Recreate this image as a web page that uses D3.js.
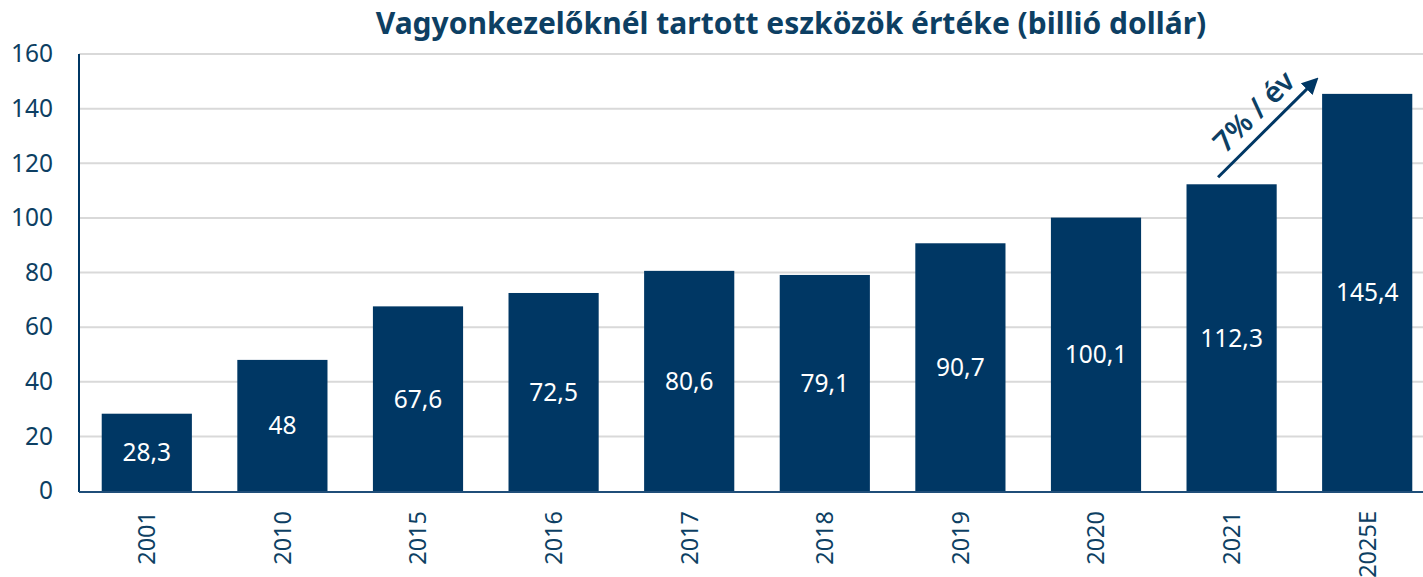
<!DOCTYPE html>
<html><head><meta charset="utf-8">
<script src="https://cdn.jsdelivr.net/npm/d3@7"></script>
<style>body{margin:0;background:#fff}svg{display:block}</style>
</head><body><svg id="c" width="1423" height="577"></svg>
<script>
const categories = ["2001","2010","2015","2016","2017","2018","2019","2020","2021","2025E"];
const values = [28.3,48,67.6,72.5,80.6,79.1,90.7,100.1,112.3,145.4];
const valueLabels = ["28,3","48","67,6","72,5","80,6","79,1","90,7","100,1","112,3","145,4"];
const yTicks = [0,20,40,60,80,100,120,140,160];
const title = "Vagyonkezelőknél tartott eszközök értéke (billió dollár)";
const annotation = "7% / év";

const navy = "#003764", txt = "#0d3f63";
const svg = d3.select("#c");
const L = 79, R = 1435, T = 54, B = 491;
const x = d3.scaleBand().domain(categories).range([L, R]).paddingInner(0.335).paddingOuter(0.1675);
const y = d3.scaleLinear().domain([0,160]).range([B, T]);
const font = "'Noto Sans', sans-serif";

svg.append("text").attr("x", 791).attr("y", 34).attr("text-anchor","middle")
  .attr("font-family", font).attr("font-weight","bold").attr("font-size", 30)
  .attr("fill", txt).text(title);

// gridlines
svg.append("g").selectAll("line").data(yTicks.filter(d=>d>0)).join("line")
  .attr("x1", L).attr("x2", 1423).attr("y1", d=>y(d)).attr("y2", d=>y(d))
  .attr("stroke", "#d9d9d9").attr("stroke-width", 2);

// y axis
const ya = svg.append("g").attr("transform", `translate(${L},0)`)
  .call(d3.axisLeft(y).tickValues(yTicks).tickSize(0).tickPadding(26));
ya.select(".domain").remove();
ya.selectAll("text").attr("font-family", font).attr("font-size", 24.5).attr("fill", txt);

// bars
svg.append("g").selectAll("rect").data(values).join("rect")
  .attr("x", (d,i)=>x(categories[i])).attr("width", x.bandwidth())
  .attr("y", d=>y(d)).attr("height", d=>B - y(d)).attr("fill", navy);

svg.append("g").selectAll("text").data(values).join("text")
  .attr("x", (d,i)=>x(categories[i]) + x.bandwidth()/2)
  .attr("y", d=>(y(d)+B)/2 + 9).attr("text-anchor","middle")
  .attr("font-family", font).attr("font-size", 24.5).attr("fill", "#fff")
  .text((d,i)=>valueLabels[i]);

// axes lines
svg.append("line").attr("x1", L).attr("x2", L).attr("y1", T).attr("y2", B+1)
  .attr("stroke", navy).attr("stroke-width", 2);
svg.append("line").attr("x1", L).attr("x2", 1423).attr("y1", B+1).attr("y2", B+1)
  .attr("stroke", "#1f4e79").attr("stroke-width", 2);

// x labels
const xa = svg.append("g").attr("transform", `translate(0,${B})`)
  .call(d3.axisBottom(x).tickSize(0).tickPadding(0));
xa.select(".domain").remove();
xa.selectAll("text").attr("font-family", font).attr("font-size", 23.5).attr("fill", txt)
  .attr("text-anchor","end").attr("dy","0.36em")
  .attr("transform","translate(0,20) rotate(-90)");

// arrow annotation
const defs = svg.append("defs");
defs.append("marker").attr("id","ah").attr("viewBox","0 0 10 10").attr("refX",8).attr("refY",5)
  .attr("markerWidth",5.5).attr("markerHeight",5.5).attr("orient","auto")
  .append("path").attr("d","M0,0 L10,5 L0,10 z").attr("fill", navy);
const x1 = x("2021") + x.bandwidth()*0.35, y1 = y(112.3) - 7;
const x2 = x("2025E") - 6, y2 = y(145.4) - 14;
svg.append("line").attr("x1", x1).attr("y1", y1).attr("x2", x2).attr("y2", y2)
  .attr("stroke", navy).attr("stroke-width", 3).attr("marker-end","url(#ah)");
const ang = Math.atan2(y2-y1, x2-x1)*180/Math.PI;
svg.append("text").attr("transform", `translate(${(x1+x2)/2 - 6},${(y1+y2)/2 - 10}) rotate(${ang})`)
  .attr("text-anchor","middle").attr("font-family", font).attr("font-weight","600")
  .attr("font-size", 29).attr("fill", txt).text(annotation);
</script></body></html>
